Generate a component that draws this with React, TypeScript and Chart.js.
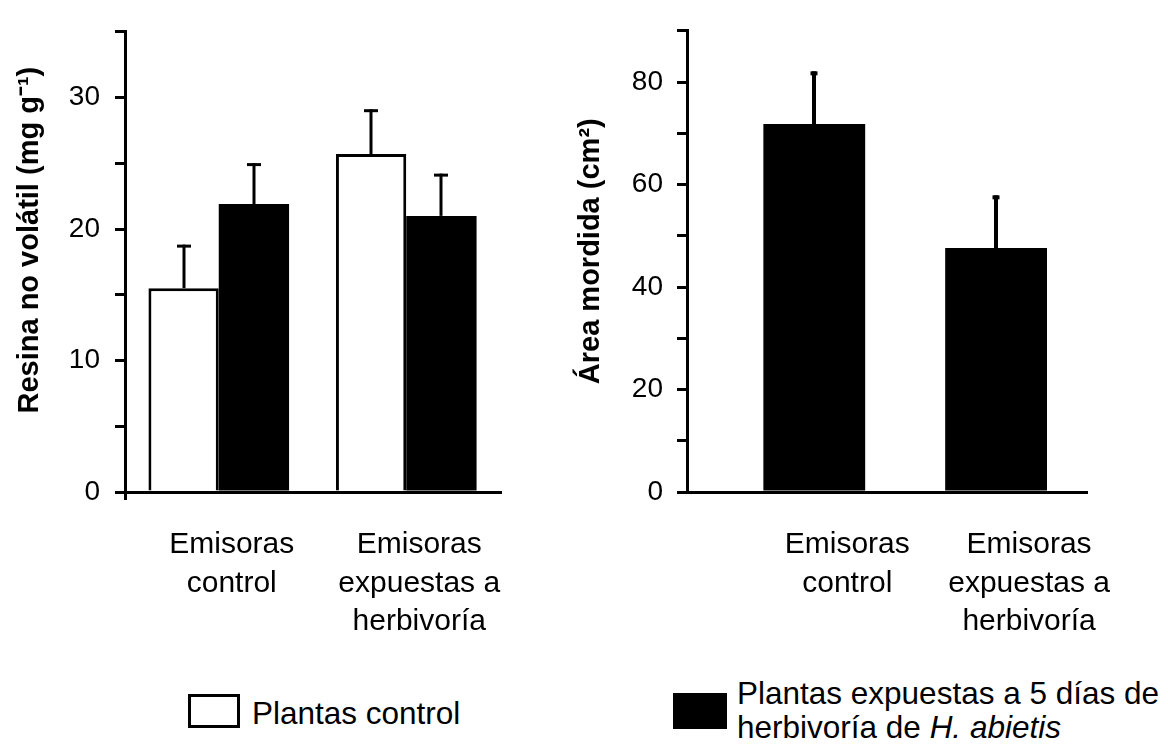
import React, { useEffect, useRef } from "react";
import { Chart, registerables } from "chart.js";

Chart.register(...registerables);

const FONT = "'Liberation Sans', Arial, Helvetica, sans-serif";

// ---- Left panel: non-volatile resin ----
const leftCategories: string[][] = [
  ["Emisoras", "control"],
  ["Emisoras", "expuestas a", "herbivoría"],
];
const resinControl = [15.5, 25.7];
const resinControlErr = [3.2, 3.3];
const resinHerb = [21.9, 21.0];
const resinHerbErr = [3.0, 3.1];
const leftYTitle = "Resina no volátil (mg g⁻¹)";
const leftYMax = 35;
const leftYStep = 5;
const leftLabelEvery = 10;

// ---- Right panel: bitten area ----
const rightCategories: string[][] = [
  ["Emisoras", "control"],
  ["Emisoras", "expuestas a", "herbivoría"],
];
const areaHerb = [71.8, 47.6];
const areaHerbErr = [9.9, 9.9];
const rightYTitle = "Área mordida (cm²)";
const rightYMax = 90;
const rightYStep = 10;
const rightLabelEvery = 20;

// ---- Legend ----
const legendControl = "Plantas control";
const legendHerbLine1 = "Plantas expuestas a 5 días de";
const legendHerbLine2 = "herbivoría de ";
const legendHerbItalic = "H. abietis";

const errorBarPlugin = {
  id: "errorBars",
  afterDatasetsDraw(chart: any, _args: any, opts: any) {
    const ctx = chart.ctx;
    const yScale = chart.scales.y;
    const capW = opts?.capWidth ?? 12;
    const lw = opts?.lineWidth ?? 3;
    chart.data.datasets.forEach((ds: any, di: number) => {
      const errs: number[] | undefined = ds.errors;
      if (!errs) return;
      const meta = chart.getDatasetMeta(di);
      meta.data.forEach((el: any, i: number) => {
        const raw = ds.data[i];
        const val = typeof raw === "number" ? raw : raw.y;
        const top = yScale.getPixelForValue(val + errs[i]);
        const x = Math.round(el.x);
        ctx.save();
        ctx.strokeStyle = "#000";
        ctx.lineWidth = lw;
        ctx.lineCap = "butt";
        ctx.beginPath();
        ctx.moveTo(x, el.y);
        ctx.lineTo(x, top - lw / 2);
        ctx.stroke();
        ctx.beginPath();
        ctx.moveTo(x - capW / 2, top);
        ctx.lineTo(x + capW / 2, top);
        ctx.stroke();
        ctx.restore();
      });
    });
  },
};

const tickFont = { family: FONT, size: 28 };
const catFont = { family: FONT, size: 30, lineHeight: 1.28 };
const titleFont = { family: FONT, size: 29, weight: "bold" as const };

export default function App() {
  const leftRef = useRef<HTMLCanvasElement>(null);
  const rightRef = useRef<HTMLCanvasElement>(null);

  useEffect(() => {
    const left = new Chart(leftRef.current as HTMLCanvasElement, {
      type: "bar",
      data: {
        labels: leftCategories as any,
        datasets: [
          {
            label: legendControl,
            data: resinControl,
            errors: resinControlErr,
            backgroundColor: "#ffffff",
            borderColor: "#000000",
            borderWidth: 3,
            categoryPercentage: 0.75,
            barPercentage: 1,
          } as any,
          {
            label: legendHerbLine1,
            data: resinHerb,
            errors: resinHerbErr,
            backgroundColor: "#000000",
            borderColor: "#000000",
            borderWidth: 0,
            categoryPercentage: 0.75,
            barPercentage: 1,
          } as any,
        ],
      },
      options: {
        responsive: false,
        animation: false,
        events: [],
        layout: { padding: { top: 19, right: 60, bottom: 0, left: 0 } },
        plugins: {
          legend: { display: false },
          tooltip: { enabled: false },
          errorBars: { capWidth: 14, lineWidth: 3 },
        } as any,
        scales: {
          x: {
            type: "category",
            afterFit: (s: any) => {
              s.height = 168;
            },
            grid: {
              display: true,
              drawOnChartArea: false,
              drawTicks: true,
              tickLength: 8,
              lineWidth: 3,
              color: (c: any) => (c.index === 0 ? "#000" : "rgba(0,0,0,0)"),
            },
            border: { display: true, color: "#000", width: 3 },
            ticks: {
              color: "#000",
              font: catFont,
              padding: 26,
              labelOffset: 13,
              maxRotation: 0,
              autoSkip: false,
            },
          },
          y: {
            min: 0,
            max: leftYMax,
            afterFit: (s: any) => {
              s.width = 125;
            },
            grid: {
              display: true,
              drawOnChartArea: false,
              drawTicks: true,
              tickLength: 10,
              lineWidth: 3,
              color: "#000",
            },
            border: { display: true, color: "#000", width: 3 },
            ticks: {
              stepSize: leftYStep,
              autoSkip: false,
              color: "#000",
              font: tickFont,
              padding: 15,
              callback: (v: any) => (Number(v) % leftLabelEvery === 0 ? String(v) : ""),
            },
            title: {
              display: true,
              text: "\u2002\u2002\u2002" + leftYTitle,
              color: "#000",
              font: titleFont,
              padding: { top: 13, bottom: 0 },
            },
          },
        },
      } as any,
      plugins: [errorBarPlugin],
    });

    const right = new Chart(rightRef.current as HTMLCanvasElement, {
      type: "bar",
      data: {
        datasets: [
          {
            label: legendHerbLine1,
            data: areaHerb.map((y, i) => ({ x: i + 1, y })),
            errors: areaHerbErr,
            backgroundColor: "#000000",
            borderColor: "#000000",
            borderWidth: 0,
            categoryPercentage: 0.56,
            barPercentage: 1,
          } as any,
        ],
      },
      options: {
        responsive: false,
        animation: false,
        events: [],
        layout: { padding: { top: 22, right: 81, bottom: 0, left: 0 } },
        plugins: {
          legend: { display: false },
          tooltip: { enabled: false },
          errorBars: { capWidth: 7, lineWidth: 4 },
        } as any,
        scales: {
          x: {
            type: "linear",
            offset: false,
            min: 0.3,
            max: 2.5,
            afterBuildTicks: (s: any) => {
              s.ticks = rightCategories.map((_, i) => ({ value: i + 1 }));
            },
            afterFit: (s: any) => {
              s.height = 168;
            },
            grid: { display: false, drawTicks: false, offset: false },
            border: { display: true, color: "#000", width: 3 },
            ticks: {
              color: "#000",
              font: catFont,
              padding: 34,
              labelOffset: 33,
              maxRotation: 0,
              autoSkip: false,
              callback: (v: any) => rightCategories[Math.round(Number(v)) - 1] ?? "",
            },
          },
          y: {
            min: 0,
            max: rightYMax,
            afterFit: (s: any) => {
              s.width = 127;
            },
            grid: {
              display: true,
              drawOnChartArea: false,
              drawTicks: true,
              tickLength: 10,
              lineWidth: 3,
              color: "#000",
            },
            border: { display: true, color: "#000", width: 3 },
            ticks: {
              stepSize: rightYStep,
              autoSkip: false,
              color: "#000",
              font: tickFont,
              padding: 14,
              callback: (v: any) => (Number(v) % rightLabelEvery === 0 ? String(v) : ""),
            },
            title: {
              display: true,
              text: "\u2002\u2009" + rightYTitle,
              color: "#000",
              font: titleFont,
              padding: { top: 14, bottom: 0 },
            },
          },
        },
      } as any,
      plugins: [errorBarPlugin],
    });

    return () => {
      left.destroy();
      right.destroy();
    };
  }, []);

  const textStyle: React.CSSProperties = {
    position: "absolute",
    fontFamily: FONT,
    fontSize: 31.5,
    lineHeight: "34px",
    color: "#000",
    whiteSpace: "nowrap",
  };

  return (
    <div
      style={{
        position: "absolute",
        left: 0,
        top: 0,
        width: 1168,
        height: 744,
        background: "#fff",
        overflow: "hidden",
      }}
    >
      <canvas
        ref={leftRef}
        width={560}
        height={660}
        style={{ position: "absolute", left: 0, top: 0, display: "block" }}
      />
      <canvas
        ref={rightRef}
        width={608}
        height={660}
        style={{ position: "absolute", left: 560, top: 0, display: "block" }}
      />
      <div
        style={{
          position: "absolute",
          left: 188,
          top: 694,
          width: 52,
          height: 34,
          boxSizing: "border-box",
          border: "3px solid #000",
          background: "#fff",
        }}
      />
      <div style={{ ...textStyle, left: 252, top: 696 }}>{legendControl}</div>
      <div
        style={{
          position: "absolute",
          left: 673,
          top: 693,
          width: 54,
          height: 36,
          background: "#000",
        }}
      />
      <div style={{ ...textStyle, left: 737, top: 676 }}>
        {legendHerbLine1}
        <br />
        {legendHerbLine2}
        <i>{legendHerbItalic}</i>
      </div>
    </div>
  );
}
